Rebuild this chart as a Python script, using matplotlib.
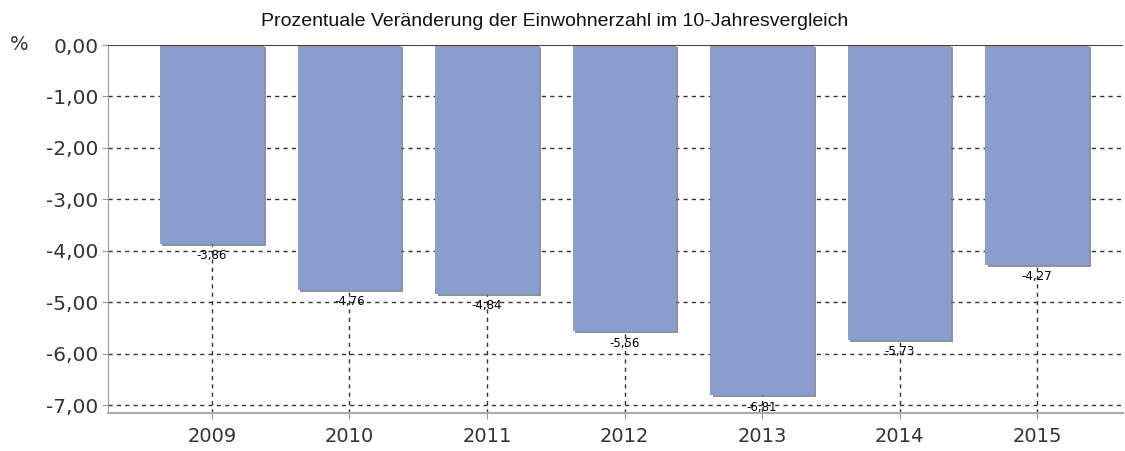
import matplotlib
matplotlib.use("Agg")
import matplotlib.pyplot as plt
import matplotlib.patheffects as pe

years = ["2009", "2010", "2011", "2012", "2013", "2014", "2015"]
values = [-3.86, -4.76, -4.84, -5.56, -6.81, -5.73, -4.27]
yticks = [0, -1, -2, -3, -4, -5, -6, -7]
title = "Prozentuale Veränderung der Einwohnerzahl im 10-Jahresvergleich"

fig = plt.figure(figsize=(11.25, 4.51), dpi=100)
ax = fig.add_axes([108/1125, 1-413/451, (1123-108)/1125, (413-45)/451])

x = list(range(len(years)))
bars = ax.bar(x, values, width=0.75, color="#8a9dcf", zorder=3,
              path_effects=[pe.SimplePatchShadow(offset=(1.5, -1.5), shadow_rgbFace="#777777", alpha=0.8), pe.Normal()])

ax.set_xlim(-0.756, 6.625)
ax.set_ylim(-7.155, 0)

for t in yticks[1:]:
    ax.axhline(t, color="#333333", lw=1.0, ls=(0, (3, 3)), zorder=1)
for xi in x:
    ax.axvline(xi, color="#333333", lw=1.0, ls=(0, (3, 3)), zorder=1)
ax.axhline(0, color="#5a3a30", lw=1.5, zorder=4)

for xi, v in zip(x, values):
    ax.annotate(f"{v:.2f}".replace(".", ","), (xi, v), xytext=(0, -4), textcoords="offset points",
                ha="center", va="top", fontsize=8.5, family="DejaVu Sans", color="#000000", zorder=5)

ax.set_yticks(yticks)
ax.set_yticklabels([f"{t:.2f}".replace(".", ",") for t in yticks], fontsize=14.5, color="#333333", family="DejaVu Sans")
ax.set_xticks(x)
ax.set_xticklabels(years, fontsize=14, color="#333333", family="DejaVu Sans")
ax.tick_params(axis="y", length=4, color="#999999", pad=3)
ax.tick_params(axis="x", length=4, color="#999999", pad=6)

for s in ["top", "right"]:
    ax.spines[s].set_visible(False)
ax.spines["left"].set_color("#999999")
ax.spines["bottom"].set_color("#aaaaaa")
ax.spines["bottom"].set_linewidth(1.5)

fig.text(10/1125, 1-45/451, "%", fontsize=14, color="#333333", va="center", ha="left", family="DejaVu Sans")
fig.text(555/1125, 1-21/451, title, fontsize=14, ha="center", va="center", family="Liberation Sans", color="#111111")

fig.savefig("out.png", dpi=100)
